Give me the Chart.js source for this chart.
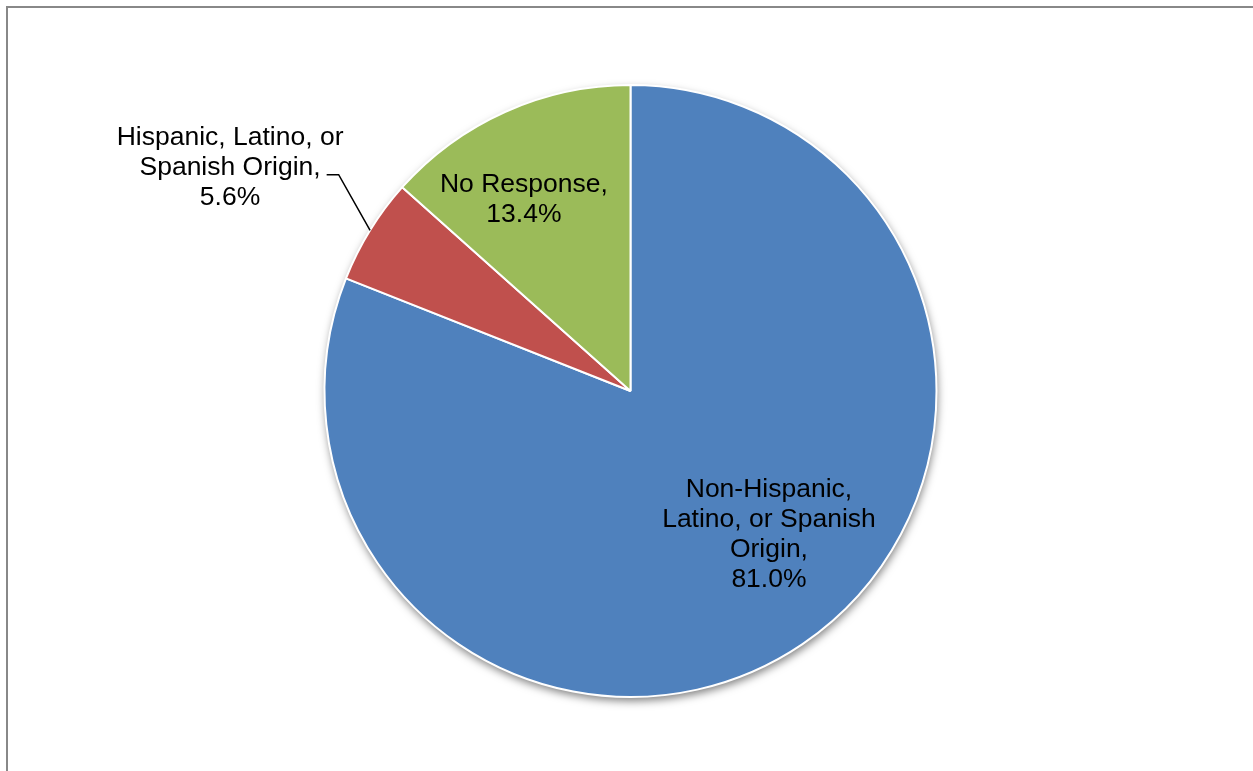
<!DOCTYPE html>
<html>
<head>
<meta charset="utf-8">
<title>Ethnicity</title>
<script src="https://cdn.jsdelivr.net/npm/chart.js@4.4.1/dist/chart.umd.min.js"></script>
<style>
  html, body { margin: 0; padding: 0; background: #fff; overflow: hidden; }
  #wrap { position: relative; width: 1253px; height: 771px; }
  #frame { position: absolute; left: 6px; top: 6px; width: 1400px; height: 900px; border: 2px solid #888888; box-sizing: border-box; }
  #pie { position: absolute; left: 0; top: 0; }
</style>
</head>
<body>
<div id="wrap">
  <div id="frame"></div>
  <canvas id="pie" width="1253" height="771"></canvas>
</div>
<script>
// categorie e percentuali
const categories = ['Non-Hispanic, Latino, or Spanish Origin', 'Hispanic, Latino, or Spanish Origin', 'No Response'];
const shares = [81.0, 5.6, 13.4];
const sliceColors = ['#4F81BD', '#C0504D', '#9BBB59'];
// testo delle etichette, riga per riga (la percentuale si aggiunge sotto)
const labelLines = [
  ['Non-Hispanic,', 'Latino, or Spanish', 'Origin,'],
  ['Hispanic, Latino, or', 'Spanish Origin,'],
  ['No Response,']
];

// posizione etichette: frazione lungo l'arco e rapporto sul raggio
const labelPlacement = [
  { along: 0.466, r: 0.65 },
  { along: 0.38, r: 1.50, leader: true },
  { along: 0.40, r: 0.72 }
];

// ombra morbida sotto la torta
const pieShadow = {
  id: 'pieShadow',
  beforeDatasetsDraw(chart) {
    const arc = chart.getDatasetMeta(0).data[0];
    if (!arc) return;
    const ctx = chart.ctx;
    ctx.save();
    ctx.shadowColor = 'rgba(0,0,0,0.5)';
    ctx.shadowBlur = 8;
    ctx.shadowOffsetX = 1;
    ctx.shadowOffsetY = 4;
    ctx.fillStyle = '#ffffff';
    ctx.beginPath();
    ctx.arc(arc.x, arc.y, arc.outerRadius, 0, Math.PI * 2);
    ctx.fill();
    ctx.restore();
  }
};

// etichette dentro/fuori con linea guida
const sliceLabels = {
  id: 'sliceLabels',
  afterDatasetsDraw(chart) {
    const ctx = chart.ctx;
    const arcs = chart.getDatasetMeta(0).data;
    const lineH = 30;
    ctx.save();
    ctx.font = '26.5px "Liberation Sans", Arial, sans-serif';
    ctx.fillStyle = '#000';
    ctx.textAlign = 'center';
    ctx.textBaseline = 'middle';
    arcs.forEach((arc, i) => {
      const p = labelPlacement[i];
      const lines = labelLines[i].concat([shares[i].toFixed(1) + '%']);
      const ang = arc.startAngle + (arc.endAngle - arc.startAngle) * p.along;
      const cx = arc.x + Math.cos(ang) * arc.outerRadius * p.r;
      const cy = arc.y + Math.sin(ang) * arc.outerRadius * p.r;
      const top = cy - (lines.length - 1) * lineH / 2;
      lines.forEach((t, k) => ctx.fillText(t, cx, top + k * lineH + 1));

      if (p.leader) {
        const mid = (arc.startAngle + arc.endAngle) / 2;
        const ex = arc.x + Math.cos(mid) * arc.outerRadius;
        const ey = arc.y + Math.sin(mid) * arc.outerRadius;
        const w = ctx.measureText(lines[1]).width;
        const ly = top + lineH + 8;
        const x0 = cx + w / 2 + 6;
        ctx.beginPath();
        ctx.strokeStyle = '#000';
        ctx.lineWidth = 1.5;
        ctx.moveTo(x0, ly);
        ctx.lineTo(x0 + 12, ly);
        ctx.lineTo(ex, ey);
        ctx.stroke();
      }
    });
    ctx.restore();
  }
};

new Chart(document.getElementById('pie'), {
  type: 'pie',
  data: {
    labels: categories,
    datasets: [{
      data: shares,
      backgroundColor: sliceColors,
      borderColor: '#ffffff',
      borderWidth: 2
    }]
  },
  options: {
    responsive: false,
    animation: false,
    devicePixelRatio: 1,
    layout: { padding: { top: 84, bottom: 73, left: 200, right: 192 } },
    plugins: { legend: { display: false }, tooltip: { enabled: false } }
  },
  plugins: [pieShadow, sliceLabels]
});
</script>
</body>
</html>
